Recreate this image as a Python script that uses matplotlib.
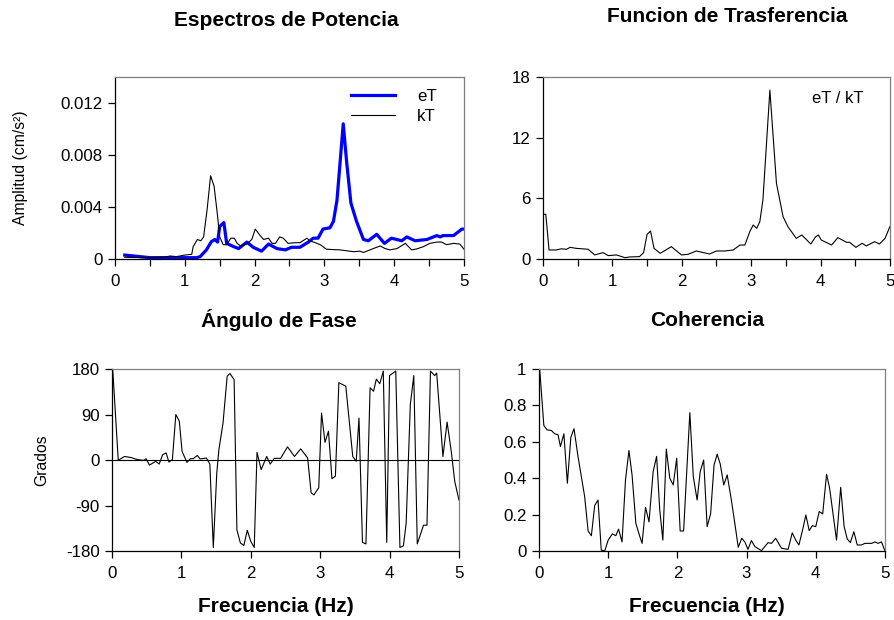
import matplotlib.pyplot as plt

plt.rcParams['font.family'] = ['Liberation Sans', 'DejaVu Sans']
plt.rcParams['axes.unicode_minus'] = False

# espectros de potencia (vertices)
f_eT = [0.14, 0.36, 0.5, 1.17, 1.22, 1.31, 1.38, 1.43, 1.47, 1.5, 1.56, 1.6, 1.7, 1.77, 1.89,
        1.98, 2.1, 2.2, 2.32, 2.44, 2.53, 2.65, 2.77, 2.84, 2.91, 2.98, 3.08, 3.13, 3.18, 3.22,
        3.27, 3.32, 3.38, 3.46, 3.56, 3.63, 3.75, 3.86, 3.96, 4.11, 4.18, 4.3, 4.47, 4.61, 4.66,
        4.7, 4.85, 4.97, 5.0]
a_eT = [0.0003, 0.00018, 0.0001, 0.0001, 0.00018, 0.0007, 0.00133, 0.0015, 0.0013, 0.0025,
        0.0028, 0.0012, 0.00095, 0.0008, 0.0013, 0.0009, 0.0006, 0.00115, 0.0008, 0.0007, 0.0009,
        0.0009, 0.0013, 0.0016, 0.0016, 0.0023, 0.0024, 0.0029, 0.0045, 0.0071, 0.0104, 0.0074,
        0.0043, 0.0029, 0.0015, 0.0014, 0.0019, 0.0012, 0.0016, 0.0014, 0.0017, 0.0014, 0.0015,
        0.0018, 0.0017, 0.0018, 0.0018, 0.0023, 0.0023]

f_kT = [0.14, 0.41, 0.72, 0.79, 0.88, 1.0, 1.1, 1.12, 1.18, 1.23, 1.27, 1.32, 1.37, 1.42, 1.47,
        1.5, 1.55, 1.6, 1.66, 1.71, 1.75, 1.8, 1.89, 1.96, 2.01, 2.08, 2.13, 2.2, 2.25, 2.3, 2.36,
        2.41, 2.48, 2.58, 2.65, 2.75, 2.79, 2.87, 2.94, 3.03, 3.22, 3.42, 3.51, 3.56, 3.7, 3.8,
        3.87, 3.94, 4.04, 4.16, 4.25, 4.32, 4.42, 4.51, 4.61, 4.68, 4.75, 4.85, 4.94, 5.0]
a_kT = [0.00013, 0.0001, 0.00015, 0.00023, 0.00018, 0.0003, 0.00036, 0.00095, 0.0015, 0.0014,
        0.0017, 0.0038, 0.0064, 0.0056, 0.0033, 0.0017, 0.0011, 0.0011, 0.0016, 0.0016, 0.0012,
        0.001, 0.00115, 0.0015, 0.0023, 0.0018, 0.0015, 0.0016, 0.0012, 0.0012, 0.0017, 0.0016,
        0.0012, 0.00125, 0.00125, 0.0016, 0.0014, 0.00125, 0.0011, 0.00075, 0.0007, 0.00056,
        0.0006, 0.0005, 0.0008, 0.001, 0.0008, 0.0007, 0.0008, 0.0012, 0.0007, 0.00077, 0.00095,
        0.0012, 0.0013, 0.0013, 0.0011, 0.0012, 0.00115, 0.00075]

# funcion de transferencia eT / kT
f_tf = [0.0, 0.04, 0.087, 0.19, 0.26, 0.34, 0.39, 0.48, 0.65, 0.745, 0.865, 0.94, 1.06, 1.18,
        1.25, 1.39, 1.45, 1.5, 1.55, 1.6, 1.69, 1.85, 1.995, 2.09, 2.21, 2.4, 2.5, 2.62, 2.74,
        2.84, 2.91, 2.98, 3.03, 3.08, 3.125, 3.17, 3.27, 3.365, 3.46, 3.53, 3.65, 3.73, 3.86, 3.93,
        3.97, 4.01, 4.16, 4.25, 4.375, 4.42, 4.51, 4.6, 4.66, 4.78, 4.85, 4.93, 5.0]
tf = [4.42, 4.42, 0.89, 0.89, 1.0, 0.96, 1.15, 1.05, 0.96, 0.4, 0.63, 0.33, 0.4, 0.13, 0.2, 0.23,
      0.63, 2.44, 2.77, 1.05, 0.56, 1.22, 0.4, 0.46, 0.79, 0.49, 0.79, 0.79, 0.89, 1.38, 1.38,
      2.7, 3.36, 3.03, 3.69, 5.84, 16.7, 7.48, 4.19, 3.2, 2.04, 2.37, 1.48, 2.2, 2.37, 1.88, 1.38,
      2.11, 1.65, 1.65, 1.15, 1.55, 1.29, 1.71, 1.48, 2.04, 3.2]

# angulo de fase
f_ph = [0.01, 0.09, 0.18, 0.27, 0.37, 0.46, 0.49, 0.54, 0.63, 0.68, 0.73, 0.78, 0.82, 0.87, 0.92,
        0.97, 1.01, 1.08, 1.13, 1.17, 1.23, 1.27, 1.33, 1.36, 1.41, 1.46, 1.51, 1.54, 1.6, 1.66,
        1.7, 1.76, 1.8, 1.85, 1.9, 1.95, 2.0, 2.05, 2.09, 2.15, 2.23, 2.28, 2.34, 2.43, 2.53, 2.63,
        2.72, 2.82, 2.87, 2.91, 2.98, 3.02, 3.07, 3.12, 3.17, 3.22, 3.27, 3.37, 3.47, 3.52, 3.56,
        3.61, 3.66, 3.72, 3.77, 3.81, 3.86, 3.91, 3.96, 4.0, 4.09, 4.15, 4.2, 4.24, 4.3, 4.35, 4.4,
        4.49, 4.54, 4.59, 4.65, 4.68, 4.77, 4.83, 4.89, 4.94, 5.0]
fase = [180, -0.7, 7, 5, 0.7, -0.7, 2.6, -10, -2.6, -8, 10.6, 14, -4, 0.7, 90, 77, 17, -4.6, 2.6,
        2.6, 9, 2, 3.3, 4, -8, -173, -26, 20, 73, 166, 171, 159, -138, -164, -169, -139, -161,
        -173, 15, -19, 7, -8, 3.3, 3.3, 26, 7, 22, 4, -65, -69, -55, 93, 35, 57, -37, -32, 153,
        146, 7, -2.6, 83, -163, -166, 143, 136, 160, 151, 176, -163, 167, 176, -173, -170, -125,
        110, 167, -166, -129, -129, 176, 167, 172, 7, 75, 17, -42, -79]

# coherencia
f_co = [0.01, 0.07, 0.116, 0.18, 0.227, 0.275, 0.31, 0.36, 0.41, 0.46, 0.506, 0.564, 0.66, 0.71,
        0.757, 0.805, 0.853, 0.9, 0.95, 1.0, 1.06, 1.11, 1.15, 1.2, 1.25, 1.3, 1.345, 1.4, 1.45,
        1.49, 1.54, 1.59, 1.65, 1.7, 1.745, 1.79, 1.84, 1.89, 1.94, 1.99, 2.04, 2.09, 2.18, 2.23,
        2.285, 2.33, 2.38, 2.43, 2.48, 2.53, 2.575, 2.62, 2.67, 2.72, 2.78, 2.83, 2.88, 2.93,
        2.975, 3.02, 3.07, 3.12, 3.216, 3.31, 3.36, 3.42, 3.505, 3.6, 3.66, 3.71, 3.756, 3.81,
        3.857, 3.905, 3.95, 4.0, 4.05, 4.1, 4.156, 4.2, 4.3, 4.36, 4.41, 4.455, 4.5, 4.55, 4.6,
        4.66, 4.71, 4.81, 4.855, 4.9, 4.95, 5.0]
coh = [1.0, 0.69, 0.666, 0.662, 0.644, 0.639, 0.574, 0.644, 0.372, 0.624, 0.672, 0.519, 0.299,
       0.11, 0.084, 0.25, 0.28, 0.005, 0.0, 0.06, 0.094, 0.084, 0.12, 0.05, 0.39, 0.552, 0.418,
       0.152, 0.088, 0.042, 0.24, 0.16, 0.437, 0.52, 0.226, 0.06, 0.56, 0.4, 0.363, 0.51, 0.11,
       0.11, 0.76, 0.409, 0.28, 0.437, 0.5, 0.134, 0.204, 0.473, 0.532, 0.477, 0.363, 0.418,
       0.28, 0.152, 0.02, 0.07, 0.05, 0.009, 0.057, 0.024, 0.002, 0.046, 0.042, 0.07, 0.015,
       0.009, 0.1, 0.06, 0.033, 0.116, 0.198, 0.112, 0.139, 0.134, 0.217, 0.204, 0.422, 0.345,
       0.06, 0.35, 0.134, 0.066, 0.046, 0.106, 0.033, 0.033, 0.042, 0.042, 0.05, 0.042, 0.05, 0.0]

fig = plt.figure(figsize=(8.94, 6.2), dpi=100)

ax1 = fig.add_axes([0.1286, 0.5823, 0.3904, 0.2935])
ax2 = fig.add_axes([0.6074, 0.5823, 0.3880, 0.2935])
ax3 = fig.add_axes([0.1253, 0.1113, 0.3880, 0.2935])
ax4 = fig.add_axes([0.6029, 0.1113, 0.3870, 0.2935])


def style(ax, minor_half=True):
    ax.set_xlim(0, 5)
    ax.set_xticks([0, 1, 2, 3, 4, 5])
    if minor_half:
        ax.set_xticks([0.5, 1.5, 2.5, 3.5, 4.5], minor=True)
    ax.tick_params(axis='both', which='both', direction='out', labelsize=12.2,
                   length=5, width=0.9, pad=4)
    ax.tick_params(axis='x', which='major', pad=6)
    for s in ['top', 'right']:
        ax.spines[s].set_color('#7f7f7f')
        ax.spines[s].set_linewidth(0.9)
    for s in ['left', 'bottom']:
        ax.spines[s].set_linewidth(0.9)


ax1.plot(f_eT, a_eT, color='#0000ff', lw=2.3, label='eT')
ax1.plot(f_kT, a_kT, color='black', lw=0.8, label='kT')
ax1.set_ylim(0, 0.014)
ax1.set_yticks([0, 0.004, 0.008, 0.012])
ax1.set_yticklabels(['0', '0.004', '0.008', '0.012'])
ax1.set_ylabel('Amplitud (cm/s²)', fontsize=11.3, labelpad=23)
style(ax1)
ax1.legend(loc='upper right', frameon=False, fontsize=12.2, handlelength=2.6,
           handletextpad=1.3, labelspacing=0.3, bbox_to_anchor=(0.965, 1.02))

ax2.plot(f_tf, tf, color='black', lw=0.8)
ax2.set_ylim(0, 18)
ax2.set_yticks([0, 6, 12, 18])
ax2.text(0.775, 0.855, 'eT / kT', transform=ax2.transAxes, fontsize=12)
style(ax2)

ax3.plot(f_ph, fase, color='black', lw=0.8)
ax3.axhline(0, color='black', lw=0.8)
ax3.set_ylim(-180, 180)
ax3.set_yticks([-180, -90, 0, 90, 180])
ax3.set_ylabel('Grados', fontsize=11.3, labelpad=12)
style(ax3, minor_half=False)

ax4.plot(f_co, coh, color='black', lw=0.8)
ax4.set_ylim(0, 1)
ax4.set_yticks([0, 0.2, 0.4, 0.6, 0.8, 1.0])
ax4.set_yticklabels(['0', '0.2', '0.4', '0.6', '0.8', '1'])
style(ax4, minor_half=False)

fig.text(286 / 894, 1 - 20 / 620, 'Espectros de Potencia', ha='center', va='center',
         fontsize=15, fontweight='bold')
fig.text(727 / 894, 1 - 17 / 620, 'Funcion de Trasferencia', ha='center', va='center',
         fontsize=15, fontweight='bold')
fig.text(279 / 894, 1 - 320 / 620, 'Ángulo de Fase', ha='center', va='center',
         fontsize=15, fontweight='bold')
fig.text(707 / 894, 1 - 321 / 620, 'Coherencia', ha='center', va='center',
         fontsize=15, fontweight='bold')
fig.text(276 / 894, 1 - 606 / 620, 'Frecuencia (Hz)', ha='center', va='center',
         fontsize=15, fontweight='bold')
fig.text(707 / 894, 1 - 606 / 620, 'Frecuencia (Hz)', ha='center', va='center',
         fontsize=15, fontweight='bold')

fig.savefig('out.png', dpi=100)
